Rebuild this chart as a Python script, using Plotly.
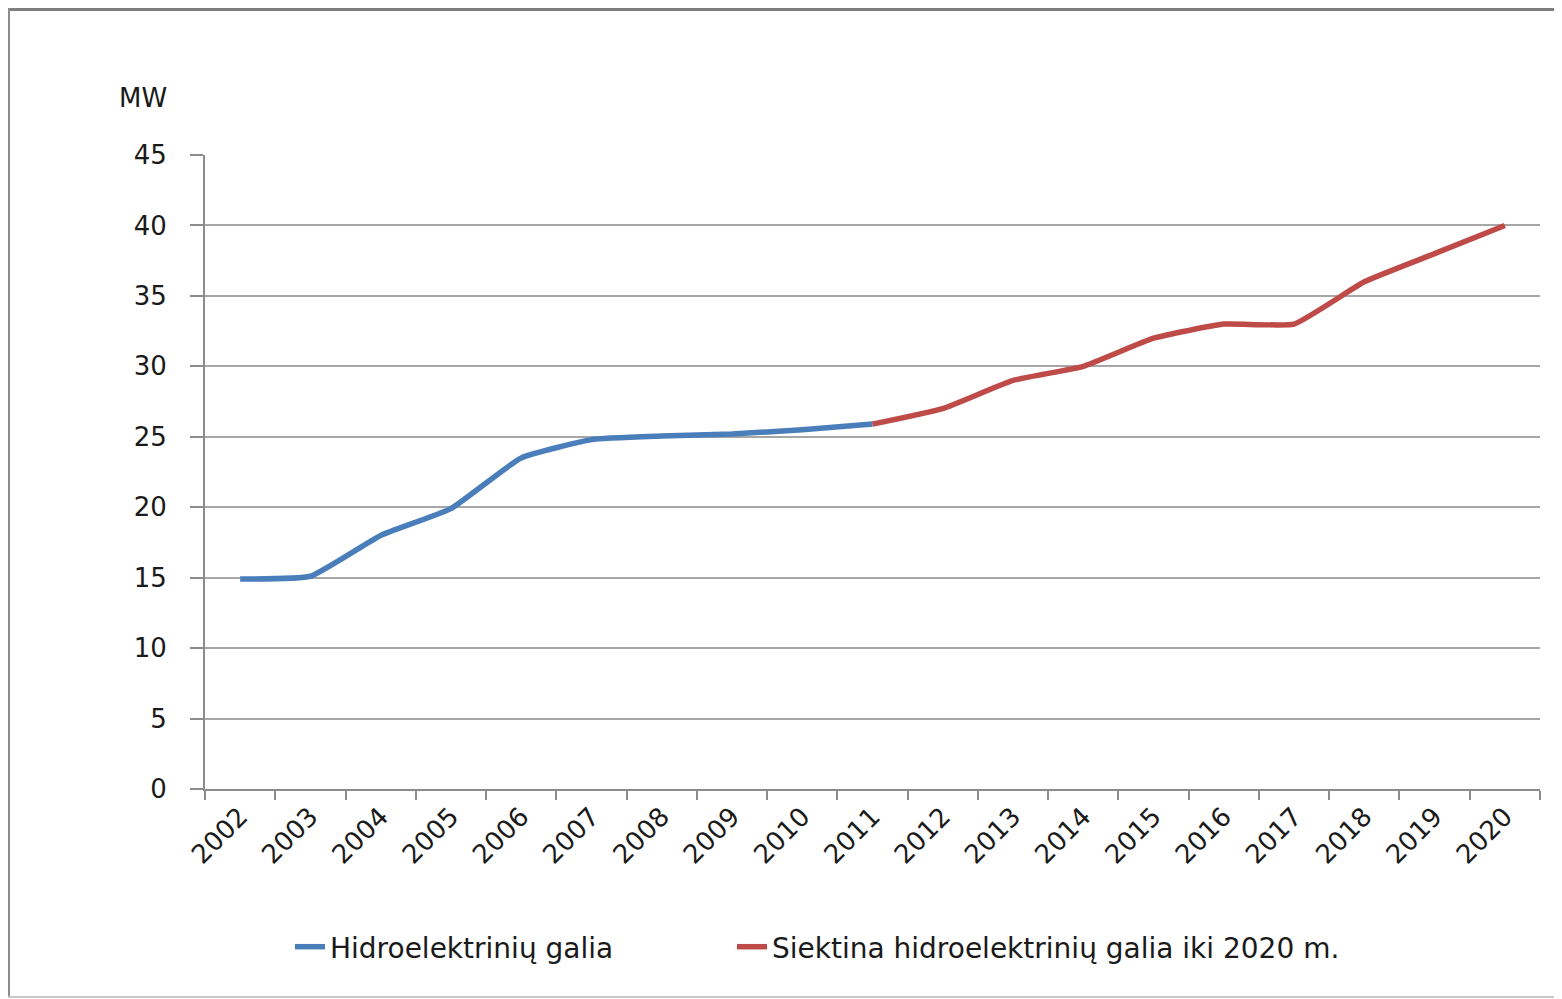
import plotly.graph_objects as go

years = [str(y) for y in range(2002, 2021)]
actual_years = years[:10]
actual_mw = [14.9, 15.1, 18.0, 19.9, 23.5, 24.8, 25.05, 25.2, 25.5, 25.9]
target_years = years[9:]
target_mw = [25.9, 27.0, 29.0, 30.0, 32.0, 33.0, 33.0, 36.0, 38.0, 40.0]
y_ticks = [0, 5, 10, 15, 20, 25, 30, 35, 40, 45]

FONT = "DejaVu Sans"
OFF = 8  # page body margin
W, H = 1562 - OFF, 999 - OFF
# plot area in page coords: x 205..1540, y 155..789
L, T = 205 - OFF, 155 - OFF
R = W - (1540 - OFF)
B = H - (789 - OFF)
pw, ph = W - L - R, H - T - B


def px(x):
    return (x - OFF - L) / pw


def py(y):
    return (H - B - (y - OFF)) / ph


fig = go.Figure()
fig.add_trace(go.Scatter(x=actual_years, y=actual_mw, mode="lines",
                         name="Hidroelektrinių galia", legend="legend",
                         line=dict(color="#4A7EBB", width=5.5, shape="spline", smoothing=0.4)))
fig.add_trace(go.Scatter(x=target_years, y=target_mw, mode="lines",
                         name="Siektina hidroelektrinių galia iki 2020 m.", legend="legend2",
                         line=dict(color="#BE4B48", width=5.5, shape="spline", smoothing=0.4)))

legend_font = dict(size=28, family=FONT, color="#1a1a1a")
fig.update_layout(
    width=W, height=H,
    margin=dict(l=L, r=R, t=T, b=B),
    paper_bgcolor="white", plot_bgcolor="white",
    font=dict(family=FONT, color="#1a1a1a", size=25),
    showlegend=True,
    legend=dict(orientation="h", x=px(290), xanchor="left", y=py(947), yanchor="middle",
                font=legend_font, bgcolor="rgba(0,0,0,0)"),
    legend2=dict(orientation="h", x=px(732), xanchor="left", y=py(947), yanchor="middle",
                 font=legend_font, bgcolor="rgba(0,0,0,0)"),
    xaxis=dict(type="category", categoryorder="array", categoryarray=years,
               tickson="boundaries", ticks="outside", ticklen=9, tickcolor="#8c8c8c",
               tickwidth=2, showline=True, linecolor="#8c8c8c", linewidth=2,
               showgrid=False, tickangle=-45, tickfont=dict(size=26, family=FONT),
               range=[-0.5, 18.5]),
    yaxis=dict(range=[0, 45], tickvals=y_ticks, ticks="outside", ticklen=13,
               tickcolor="#8c8c8c", tickwidth=2, showline=True, linecolor="#8c8c8c",
               linewidth=2, showgrid=True, gridcolor="#a6a6a6", gridwidth=2,
               zeroline=False, tickfont=dict(size=26, family=FONT), ticklabelstandoff=18),
    annotations=[dict(text="MW", x=px(143), y=py(98), xref="paper", yref="paper",
                      xanchor="center", yanchor="middle",
                      showarrow=False, font=dict(size=26, family=FONT))],
    shapes=[
        dict(type="line", xref="paper", yref="paper", x0=px(8), x1=px(1570), y0=py(9.5), y1=py(9.5),
             line=dict(color="#7f7f7f", width=3)),
        dict(type="line", xref="paper", yref="paper", x0=px(9), x1=px(9), y0=py(8), y1=py(997),
             line=dict(color="#8c8c8c", width=2)),
        dict(type="line", xref="paper", yref="paper", x0=px(8), x1=px(1570), y0=py(997), y1=py(997),
             line=dict(color="#c8c8c8", width=2)),
    ],
)

fig.write_html("out.html")
